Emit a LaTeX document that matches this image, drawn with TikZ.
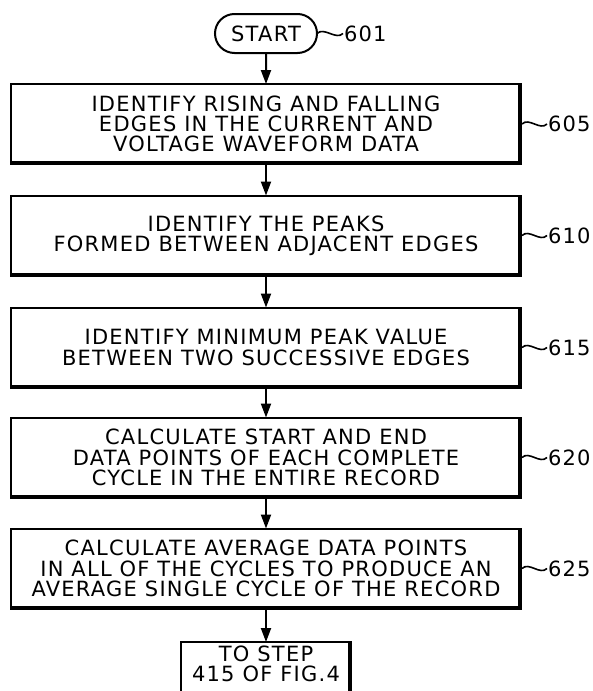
\documentclass[tikz,border=0pt]{standalone}
\usepackage{fontspec}
\setmainfont{DejaVu Sans}[LetterSpace=6]
\usetikzlibrary{arrows.meta,shapes.misc}
\begin{document}
\begin{tikzpicture}[x=1pt,y=-1pt,
  every node/.style={font=\fontsize{21}{20.3}\selectfont, inner sep=0pt, outer sep=0pt},
  stepbox/.style={draw, line width=2pt, minimum width=510pt, minimum height=80pt, align=center},
  startbox/.style={draw, rounded rectangle, line width=2pt, minimum width=102pt, minimum height=39pt},
  endbox/.style={draw, line width=2pt, minimum width=170pt, inner ysep=4pt, align=center},
  lbl/.style={anchor=west, inner sep=1pt},
  flow/.style={line width=2pt, -{Triangle[length=14pt,width=10pt]}},
  squig/.style={line width=1.6pt},
  thickedge/.style={line width=4pt}]
\useasboundingbox (0,0) rectangle (592,691);
\fill[white] (0,0) rectangle (592,691);
\clip (0,0) rectangle (592,691);

\node[startbox] (s) at (266,33.5) {START};
\node[stepbox] (b1) at (266,124) {IDENTIFY RISING AND FALLING\\EDGES IN THE CURRENT AND\\VOLTAGE WAVEFORM DATA};
\node[stepbox] (b2) at (266,235.5) {IDENTIFY THE PEAKS\\FORMED BETWEEN ADJACENT EDGES};
\node[stepbox] (b3) at (266,347.5) {IDENTIFY MINIMUM PEAK VALUE\\BETWEEN TWO SUCCESSIVE EDGES};
\node[stepbox] (b4) at (266,457.5) {CALCULATE START AND END\\DATA POINTS OF EACH COMPLETE\\CYCLE IN THE ENTIRE RECORD};
\node[stepbox] (b5) at (266,568.5) {CALCULATE AVERAGE DATA POINTS\\IN ALL OF THE CYCLES TO PRODUCE AN\\AVERAGE SINGLE CYCLE OF THE RECORD};
\node[endbox, anchor=north] (e) at (266,642) {TO STEP\\415 OF FIG.4\rule[-40pt]{0pt}{40pt}};

\foreach \n in {b1,b2,b3,b4,b5,e}
  \draw[thickedge] ([xshift=-1pt]\n.north east) -- ([xshift=-1pt,yshift=1pt]\n.south east) -- ([yshift=1pt]\n.south west);

\node[lbl] (l601) at (343,33.5) {601};
\node[lbl] (l605) at (547,124) {605};
\node[lbl] (l610) at (547,235.5) {610};
\node[lbl] (l615) at (547,347.5) {615};
\node[lbl] (l620) at (547,457.5) {620};
\node[lbl] (l625) at (547,568.5) {625};

\draw[squig] (s.east) .. controls +(7,-7) and +(-7,7) .. (l601.west);
\foreach \b/\l in {b1/l605,b2/l610,b3/l615,b4/l620,b5/l625}
  \draw[squig] ([xshift=1pt]\b.east) .. controls +(7,-7) and +(-7,7) .. (\l.west);

\draw[flow] (s) -- (b1);
\draw[flow] (b1) -- (b2);
\draw[flow] (b2) -- (b3);
\draw[flow] (b3) -- (b4);
\draw[flow] (b4) -- (b5);
\draw[flow] (b5) -- (e);
\end{tikzpicture}
\end{document}
